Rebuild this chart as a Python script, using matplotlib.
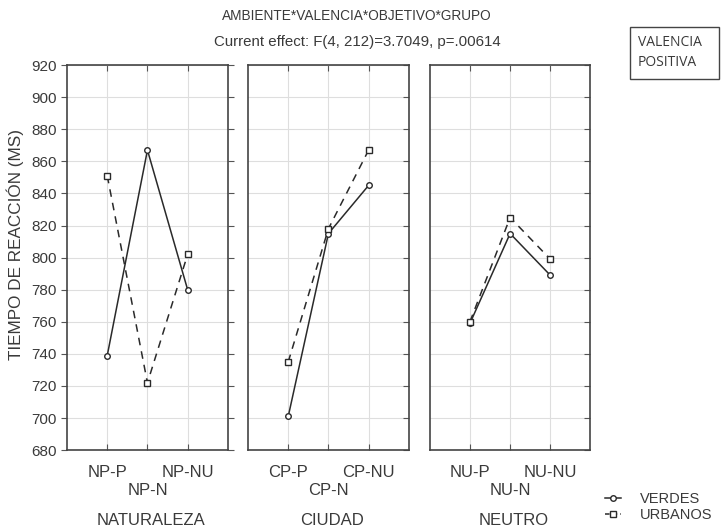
import matplotlib.pyplot as plt
from matplotlib.lines import Line2D
from matplotlib.patches import Rectangle
import matplotlib.transforms as mtransforms

plt.rcParams["font.family"] = ["Liberation Sans", "DejaVu Sans"]

# Data
ambientes = ["NATURALEZA", "CIUDAD", "NEUTRO"]
categorias = [
    ["NP-P", "NP-N", "NP-NU"],
    ["CP-P", "CP-N", "CP-NU"],
    ["NU-P", "NU-N", "NU-NU"],
]
verdes = [
    [739, 867, 780],
    [701, 815, 845],
    [759, 815, 789],
]
urbanos = [
    [851, 722, 802],
    [735, 818, 867],
    [760, 825, 799],
]
y_ticks = list(range(680, 921, 20))

line_color = "#2a2a2a"
text_color = "#3a3a3a"

W, H = 721, 529
fig = plt.figure(figsize=(W / 100, H / 100), dpi=100)

panel_left = [0.093, 0.344, 0.596]
panel_width = 0.223
bottom, height = 0.149, 0.728

for i in range(3):
    ax = fig.add_axes([panel_left[i], bottom, panel_width, height])
    x = [1, 2, 3]
    ax.plot(x, verdes[i], color=line_color, linestyle="-", linewidth=1.1,
            marker="o", markersize=4, markerfacecolor="white",
            markeredgecolor=line_color, zorder=3)
    ax.plot(x, urbanos[i], color=line_color, linestyle=(0, (5, 4)), linewidth=1.1,
            marker="s", markersize=4.5, markerfacecolor="white",
            markeredgecolor=line_color, zorder=3)

    ax.set_xlim(0, 4)
    ax.set_ylim(680, 920)
    ax.set_yticks(y_ticks)
    ax.set_xticks(x)
    ax.set_xticklabels([])
    ax.grid(True, color="#dedede", linewidth=0.8)
    ax.set_axisbelow(True)
    for s in ax.spines.values():
        s.set_color("#444444")
        s.set_linewidth(1.2)

    ax.tick_params(axis="both", direction="in", length=4, color="#555555",
                   top=True, right=True, left=False, labelleft=False)
    if i == 0:
        ax.tick_params(axis="y", left=True, direction="out", labelleft=True,
                       labelsize=11, labelcolor=text_color)
        ax.set_ylabel("TIEMPO DE REACCIÓN (MS)", fontsize=12.3,
                      color=text_color)
        ax.yaxis.set_label_coords(-0.265, 0.535)

    trans = mtransforms.blended_transform_factory(ax.transData, ax.transAxes)
    offsets = [-0.058, -0.105, -0.058]
    for j, lab in enumerate(categorias[i]):
        ax.text(x[j], offsets[j], lab, transform=trans, ha="center",
                va="center", fontsize=12, color=text_color)
    ax.text(2.1, -0.183, ambientes[i], transform=trans, ha="center",
            va="center", fontsize=12, color=text_color)

fig.text(0.495, 0.969, "AMBIENTE*VALENCIA*OBJETIVO*GRUPO", ha="center",
         va="center", fontsize=9.8, color=text_color)
fig.text(0.495, 0.920, "Current effect: F(4, 212)=3.7049, p=.00614",
         ha="center", va="center", fontsize=10.8, color=text_color)

# "VALENCIA POSITIVA" box in the top right corner
fig.patches.append(Rectangle((630 / W, 1 - 79 / H), 89 / W, 52 / H,
                             transform=fig.transFigure, facecolor="white",
                             edgecolor="#444444", linewidth=1.0))
fig.text(638 / W, 1 - 43 / H, "VALENCIA", ha="left", va="center",
         fontsize=10, family=["Open Sans", "DejaVu Sans"], color=text_color)
fig.text(638 / W, 1 - 62 / H, "POSITIVA", ha="left", va="center",
         fontsize=10, family=["Open Sans", "DejaVu Sans"], color=text_color)

handles = [
    Line2D([], [], color=line_color, linestyle="-", linewidth=1.1, marker="o",
           markersize=4, markerfacecolor="white", markeredgecolor=line_color),
    Line2D([], [], color=line_color, linestyle=(0, (3, 2)), linewidth=1.1,
           marker="s", markersize=4.5, markerfacecolor="white",
           markeredgecolor=line_color),
]
fig.legend(handles, ["VERDES", "URBANOS"], loc="center left",
           bbox_to_anchor=(605 / W, 1 - 507 / H), frameon=False, fontsize=10.5,
           handlelength=1.1, handletextpad=1.3, labelspacing=0.1,
           labelcolor=text_color, borderaxespad=0, borderpad=0)

fig.savefig("out.png", dpi=100, facecolor="white")
